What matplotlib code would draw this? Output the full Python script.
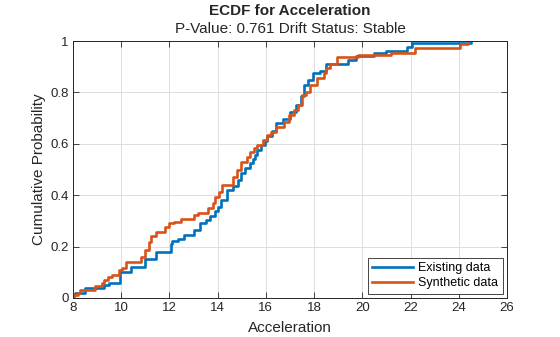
import matplotlib
matplotlib.use("Agg")
import matplotlib.pyplot as plt
import numpy as np

plt.rcParams['font.family'] = ['Liberation Sans', 'DejaVu Sans']

# ECDF jump locations and cumulative probability after each jump
existing_x = [8.0, 8.1, 8.5, 9.3, 9.5, 9.95, 10.4, 11.0, 11.45, 12.05, 12.1, 12.35,
              12.6, 13.0, 13.25, 13.5, 13.7, 13.9, 14.0, 14.15, 14.4, 14.65, 14.85,
              14.95, 15.15, 15.35, 15.45, 15.55, 15.65, 15.8, 15.95, 16.05, 16.25,
              16.4, 16.7, 17.0, 17.25, 17.45, 17.6, 17.75, 17.95, 18.25, 18.5,
              19.4, 19.75, 20.5, 21.0, 21.85, 22.05, 24.5]
existing_f = [0.01, 0.02, 0.04, 0.05, 0.06, 0.10, 0.12, 0.15, 0.18, 0.21, 0.22, 0.23,
              0.245, 0.265, 0.29, 0.305, 0.32, 0.34, 0.355, 0.38, 0.42, 0.435, 0.46,
              0.485, 0.505, 0.525, 0.54, 0.555, 0.575, 0.595, 0.61, 0.63, 0.65,
              0.68, 0.695, 0.725, 0.75, 0.785, 0.83, 0.85, 0.875, 0.885, 0.91,
              0.925, 0.94, 0.952, 0.962, 0.978, 0.993, 1.0]

synthetic_x = [8.05, 8.2, 8.3, 8.9, 9.2, 9.3, 9.45, 9.6, 9.9, 10.05, 10.2, 10.8, 11.0,
               11.15, 11.25, 11.45, 11.8, 12.0, 12.2, 12.5, 13.0, 13.2, 13.6, 13.8,
               13.9, 14.05, 14.2, 14.65, 14.8, 14.95, 15.2, 15.35, 15.5, 15.65, 15.9,
               16.05, 16.2, 16.4, 16.75, 16.95, 17.15, 17.35, 17.5, 17.65, 17.85,
               18.1, 18.4, 18.5, 18.65, 18.95, 19.8, 21.2, 22.2, 24.05, 24.4]
synthetic_f = [0.01, 0.02, 0.03, 0.047, 0.06, 0.07, 0.083, 0.09, 0.109, 0.117, 0.14,
               0.16, 0.187, 0.219, 0.24, 0.258, 0.277, 0.29, 0.297, 0.307, 0.323,
               0.33, 0.35, 0.37, 0.394, 0.413, 0.44, 0.472, 0.498, 0.53, 0.55, 0.57,
               0.582, 0.595, 0.615, 0.634, 0.647, 0.667, 0.686, 0.712, 0.732, 0.75,
               0.79, 0.803, 0.829, 0.855, 0.874, 0.894, 0.91, 0.937, 0.946, 0.955,
               0.973, 0.988, 1.0]

x_ticks = [8, 10, 12, 14, 16, 18, 20, 22, 24, 26]
y_ticks = [0, 0.2, 0.4, 0.6, 0.8, 1]
y_tick_labels = ["0", "0.2", "0.4", "0.6", "0.8", "1"]

W, H = 560, 337
fig = plt.figure(figsize=(W / 100, H / 100), dpi=100)
ax = fig.add_axes([73 / W, 1 - 298 / H, (507 - 73) / W, (298 - 41) / H])

def stairs(xs, fs):
    x = np.concatenate([[xs[0]], xs])
    y = np.concatenate([[0.0], fs])
    return x, y

bx, by = stairs(existing_x, existing_f)
ox, oy = stairs(synthetic_x, synthetic_f)
ax.step(bx, by, where='post', color='#0072BD', lw=1.9, label='Existing data')
ax.step(ox, oy, where='post', color='#D95319', lw=1.9, label='Synthetic data')

ax.set_xlim(8, 26)
ax.set_ylim(0, 1)
ax.set_xticks(x_ticks)
ax.set_yticks(y_ticks)
ax.set_yticklabels(y_tick_labels)
ax.grid(True, color='#dfdfdf', lw=0.7)
ax.set_axisbelow(True)
ax.tick_params(direction='in', length=4, width=0.6, labelsize=9.5,
               colors='#262626', top=True, right=True, pad=3)
for s in ax.spines.values():
    s.set_color('#262626')
    s.set_linewidth(0.7)

ax.set_xlabel('Acceleration', fontsize=11, color='#262626', labelpad=5)
ax.set_ylabel('Cumulative Probability', fontsize=11, color='#262626', labelpad=3)

fig.text((73 + 507) / 2 / W, 1 - 11 / H, 'ECDF for Acceleration', ha='center',
         va='center', fontsize=11, fontweight='bold', color='#262626')
fig.text((73 + 507) / 2 / W, 1 - 29 / H, 'P-Value: 0.761 Drift Status: Stable',
         ha='center', va='center', fontsize=11, color='#262626')

leg = ax.legend(loc='lower right', fontsize=9, frameon=True, fancybox=False,
                edgecolor='#262626', framealpha=1, borderpad=0.35,
                handlelength=3.3, handletextpad=0.4, labelspacing=0.25,
                borderaxespad=0.35)
leg.get_frame().set_linewidth(0.6)

fig.savefig('out.png', dpi=100)
